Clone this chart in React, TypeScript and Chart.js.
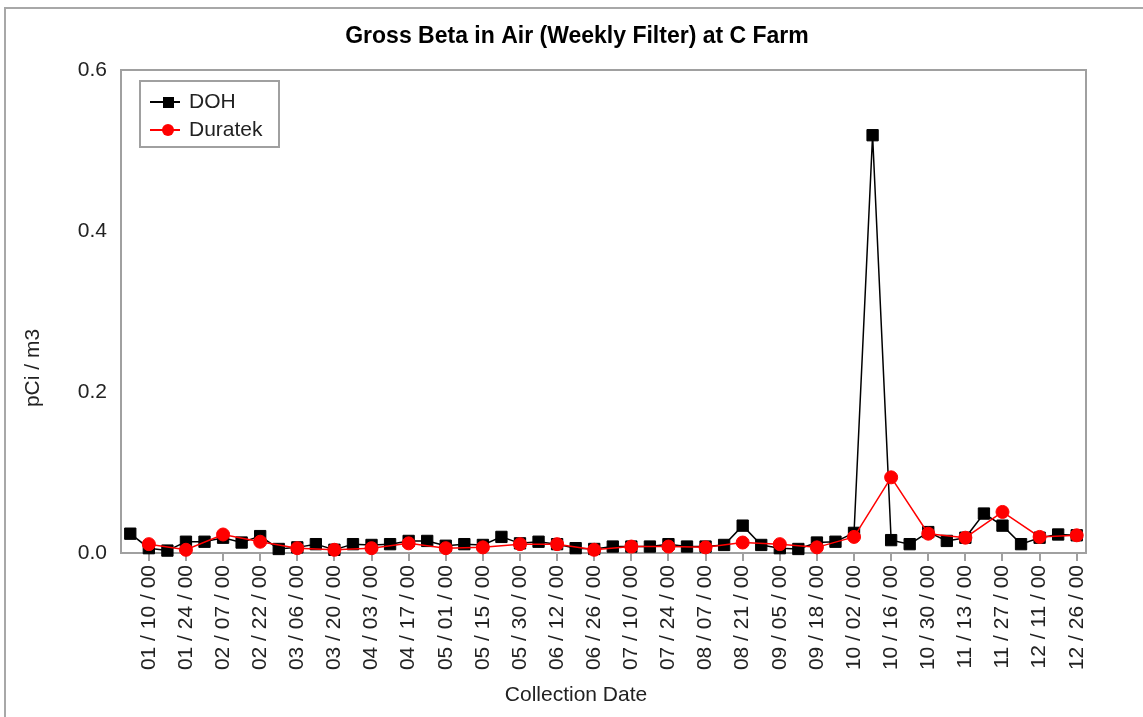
import React, { useEffect, useRef } from 'react';
import { Chart, registerables } from 'chart.js';

Chart.register(...registerables);

const TITLE = 'Gross Beta in Air (Weekly Filter) at C Farm';
const X_TITLE = 'Collection Date';
const Y_TITLE = 'pCi / m3';

// weekly collection dates (every other one is labelled on the axis)
const WEEK_LABELS = [
  '01 / 03 / 00', '01 / 10 / 00', '01 / 17 / 00', '01 / 24 / 00', '01 / 31 / 00', '02 / 07 / 00',
  '02 / 14 / 00', '02 / 22 / 00', '02 / 28 / 00', '03 / 06 / 00', '03 / 13 / 00', '03 / 20 / 00',
  '03 / 27 / 00', '04 / 03 / 00', '04 / 10 / 00', '04 / 17 / 00', '04 / 24 / 00', '05 / 01 / 00',
  '05 / 08 / 00', '05 / 15 / 00', '05 / 22 / 00', '05 / 30 / 00', '06 / 05 / 00', '06 / 12 / 00',
  '06 / 19 / 00', '06 / 26 / 00', '07 / 03 / 00', '07 / 10 / 00', '07 / 17 / 00', '07 / 24 / 00',
  '07 / 31 / 00', '08 / 07 / 00', '08 / 14 / 00', '08 / 21 / 00', '08 / 28 / 00', '09 / 05 / 00',
  '09 / 11 / 00', '09 / 18 / 00', '09 / 25 / 00', '10 / 02 / 00', '10 / 09 / 00', '10 / 16 / 00',
  '10 / 23 / 00', '10 / 30 / 00', '11 / 06 / 00', '11 / 13 / 00', '11 / 20 / 00', '11 / 27 / 00',
  '12 / 04 / 00', '12 / 11 / 00', '12 / 18 / 00', '12 / 26 / 00',
];

const DOH_VALUES = [
  0.024, 0.006, 0.003, 0.014, 0.014, 0.019, 0.013, 0.021, 0.005, 0.007, 0.011, 0.004,
  0.011, 0.010, 0.011, 0.015, 0.015, 0.009, 0.011, 0.010, 0.020, 0.012, 0.014, 0.011,
  0.006, 0.005, 0.008, 0.008, 0.008, 0.011, 0.008, 0.008, 0.010, 0.034, 0.010, 0.006,
  0.005, 0.013, 0.014, 0.025, 0.519, 0.016, 0.011, 0.026, 0.015, 0.019, 0.049, 0.034,
  0.011, 0.019, 0.023, 0.022,
];

const DURATEK_VALUES = [
  null, 0.011, null, 0.004, null, 0.023, null, 0.014, null, 0.006, null, 0.004,
  null, 0.006, null, 0.012, null, 0.006, null, 0.007, null, 0.011, null, 0.011,
  null, 0.004, null, 0.008, null, 0.008, null, 0.007, null, 0.013, null, 0.011,
  null, 0.007, null, 0.020, null, 0.094, null, 0.024, null, 0.019, null, 0.051,
  null, 0.020, null, 0.022,
];

const Y_TICKS = [0, 0.2, 0.4, 0.6];

const FONT = '"Liberation Sans", Arial, sans-serif';

const decorPlugin = {
  id: 'decor',
  beforeDatasetsDraw(chart: any) {
    const { ctx, chartArea: a } = chart;
    ctx.save();
    ctx.strokeStyle = '#a0a0a0';
    ctx.lineWidth = 2;
    ctx.strokeRect(a.left, a.top, a.right - a.left, a.bottom - a.top);
    ctx.restore();
  },
  afterDraw(chart: any) {
    const { ctx } = chart;
    ctx.save();
    // title
    ctx.fillStyle = '#000';
    ctx.font = `bold 23px ${FONT}`;
    ctx.textAlign = 'center';
    ctx.textBaseline = 'middle';
    ctx.fillText(TITLE, 577, 37);
    // axis titles
    ctx.font = `21px ${FONT}`;
    ctx.fillStyle = '#222';
    ctx.fillText(X_TITLE, 576, 695);
    ctx.save();
    ctx.translate(33, 368);
    ctx.rotate(-Math.PI / 2);
    ctx.fillText(Y_TITLE, 0, 0);
    ctx.restore();

    // legend box
    ctx.fillStyle = '#ffffff';
    ctx.fillRect(140, 81, 139, 66);
    ctx.strokeStyle = '#a0a0a0';
    ctx.lineWidth = 2;
    ctx.strokeRect(140, 81, 139, 66);
    const ds = chart.data.datasets;
    const rows = [
      { y: 102, d: ds[0] },
      { y: 130, d: ds[1] },
    ];
    rows.forEach(({ y, d }) => {
      ctx.strokeStyle = d.borderColor;
      ctx.lineWidth = 2;
      ctx.beginPath();
      ctx.moveTo(150, y);
      ctx.lineTo(180, y);
      ctx.stroke();
      ctx.fillStyle = d.pointBackgroundColor;
      if (d.pointStyle === 'rect') {
        ctx.fillRect(163, y - 5, 11, 11);
      } else {
        ctx.beginPath();
        ctx.arc(168, y, 6, 0, Math.PI * 2);
        ctx.fill();
      }
      ctx.fillStyle = '#222';
      ctx.font = `21px ${FONT}`;
      ctx.textAlign = 'left';
      ctx.textBaseline = 'middle';
      ctx.fillText(d.label, 189, y);
    });
    ctx.restore();
  },
};

export default function App() {
  const ref = useRef<HTMLCanvasElement | null>(null);
  useEffect(() => {
    if (!ref.current) return;
    const chart = new Chart(ref.current, {
      type: 'line',
      data: {
        labels: WEEK_LABELS,
        datasets: [
          {
            label: 'DOH',
            data: DOH_VALUES,
            borderColor: '#000000',
            backgroundColor: '#000000',
            pointBackgroundColor: '#000000',
            pointBorderColor: '#000000',
            pointStyle: 'rect',
            pointRadius: 8,
            pointBorderWidth: 1,
            borderWidth: 1.5,
            tension: 0,
            clip: false,
            order: 2,
          } as any,
          {
            label: 'Duratek',
            data: DURATEK_VALUES,
            borderColor: '#ff0000',
            backgroundColor: '#ff0000',
            pointBackgroundColor: '#ff0000',
            pointBorderColor: '#ff0000',
            pointStyle: 'circle',
            pointRadius: 6.5,
            pointBorderWidth: 1,
            borderWidth: 1.5,
            tension: 0,
            spanGaps: true,
            clip: false,
            order: 1,
          } as any,
        ],
      },
      options: {
        animation: false,
        responsive: false,
        maintainAspectRatio: false,
        layout: { padding: { left: 0, right: 57, top: 70, bottom: 0 } },
        plugins: {
          legend: { display: false },
          title: { display: false },
          tooltip: { enabled: false },
        },
        scales: {
          x: {
            type: 'category',
            offset: true,
            afterFit: (s: any) => { s.height = 164; },
            grid: {
              offset: false,
              drawOnChartArea: false,
              drawTicks: true,
              tickLength: 8,
              tickColor: (c: any) => (c.index % 2 === 1 ? '#a0a0a0' : 'rgba(0,0,0,0)'),
              lineWidth: 2,
            },
            border: { display: false },
            ticks: {
              autoSkip: false,
              maxRotation: 90,
              minRotation: 90,
              padding: 4,
              color: '#222',
              font: { family: FONT, size: 21 },
              callback: (_v: any, i: number) => (i % 2 === 1 ? WEEK_LABELS[i] : ''),
            },
          },
          y: {
            min: Y_TICKS[0],
            max: Y_TICKS[Y_TICKS.length - 1],
            afterFit: (s: any) => { s.width = 121; },
            afterBuildTicks: (s: any) => { s.ticks = Y_TICKS.map((v) => ({ value: v })); },
            grid: { display: false, drawTicks: false },
            border: { display: false },
            ticks: {
              padding: 14,
              color: '#222',
              font: { family: FONT, size: 21 },
              callback: (v: any) => Number(v).toFixed(1),
            },
          },
        },
      },
      plugins: [decorPlugin],
    } as any);
    return () => chart.destroy();
  }, []);

  return (
    <div style={{ position: 'absolute', left: 0, top: 0, width: 1143, height: 717, overflow: 'hidden', background: '#fff' }}>
      <div style={{ position: 'absolute', left: 4, top: 7, width: 1160, height: 740, border: '2px solid #a8a8a8', boxSizing: 'border-box' }} />
      <canvas ref={ref} width={1143} height={717} style={{ position: 'absolute', left: 0, top: 0, width: 1143, height: 717 }} />
    </div>
  );
}
